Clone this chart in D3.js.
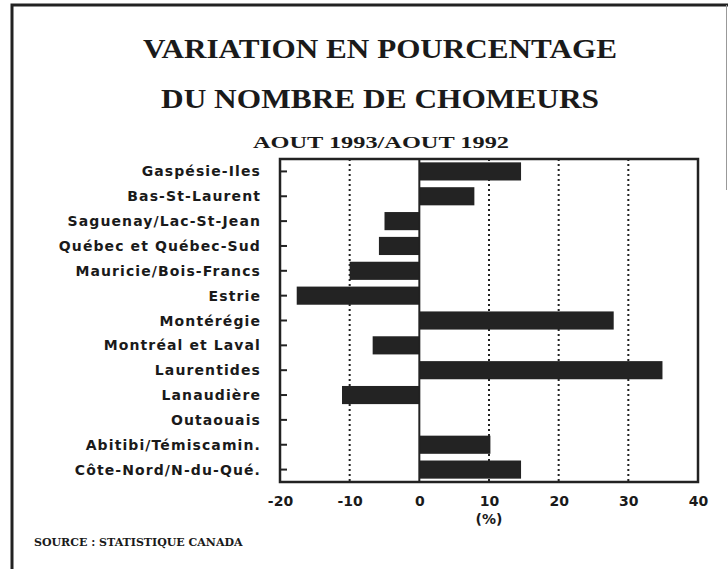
<!DOCTYPE html>
<html>
<head>
<meta charset="utf-8">
<script src="https://cdn.jsdelivr.net/npm/d3@7"></script>
<style>
  html, body { margin: 0; padding: 0; background: #fff; }
  svg { display: block; }
</style>
</head>
<body>
<div id="chart"></div>
<script>
const regions = [
  "Gaspésie-Iles", "Bas-St-Laurent", "Saguenay/Lac-St-Jean", "Québec et Québec-Sud",
  "Mauricie/Bois-Francs", "Estrie", "Montérégie", "Montréal et Laval",
  "Laurentides", "Lanaudière", "Outaouais", "Abitibi/Témiscamin.", "Côte-Nord/N-du-Qué."
];
const variation = [14.6, 7.9, -5.0, -5.8, -10.0, -17.6, 27.9, -6.7, 34.9, -11.1, 0, 10.2, 14.6];
const xTicks = [-20, -10, 0, 10, 20, 30, 40];
const gridTicks = [-10, 10, 20, 30];

const width = 728, height = 569;
const margin = { top: 159, right: 30, bottom: 87, left: 280 };

const svg = d3.select("#chart")
  .append("svg")
  .attr("width", width)
  .attr("height", height);

// outer frame of the page
svg.append("path")
  .attr("d", `M12,${height} L12,5 L${width},5`)
  .attr("fill", "none")
  .attr("stroke", "#222")
  .attr("stroke-width", 3);
svg.append("line")
  .attr("x1", 726.5).attr("x2", 726.5).attr("y1", 5).attr("y2", 190)
  .attr("stroke", "#999").attr("stroke-width", 1);

// titles
const title = svg.append("g")
  .attr("font-family", "'Liberation Serif', 'DejaVu Serif', serif")
  .attr("text-anchor", "middle")
  .attr("fill", "#1a1a1a");

title.append("text")
  .attr("x", 380).attr("y", 58)
  .attr("font-size", 28)
  .attr("font-weight", "bold")
  .attr("textLength", 474)
  .attr("lengthAdjust", "spacingAndGlyphs")
  .text("VARIATION EN POURCENTAGE");

title.append("text")
  .attr("x", 380).attr("y", 108)
  .attr("font-size", 28)
  .attr("font-weight", "bold")
  .attr("textLength", 438)
  .attr("lengthAdjust", "spacingAndGlyphs")
  .text("DU NOMBRE DE CHOMEURS");

title.append("text")
  .attr("x", 381).attr("y", 148)
  .attr("font-size", 16)
  .attr("font-weight", "bold")
  .attr("textLength", 256)
  .attr("lengthAdjust", "spacingAndGlyphs")
  .text("AOUT 1993/AOUT 1992");

const innerW = width - margin.left - margin.right;
const innerH = height - margin.top - margin.bottom;

const g = svg.append("g")
  .attr("transform", `translate(${margin.left},${margin.top})`);

const x = d3.scaleLinear()
  .domain([-20, 40])
  .range([0, innerW]);

const y = d3.scaleBand()
  .domain(regions)
  .range([0, innerH])
  .paddingInner(0.27)
  .paddingOuter(0.135);

// dotted grid
g.selectAll(".grid")
  .data(gridTicks)
  .join("line")
  .attr("class", "grid")
  .attr("x1", d => x(d)).attr("x2", d => x(d))
  .attr("y1", 0).attr("y2", innerH)
  .attr("stroke", "#222")
  .attr("stroke-width", 2)
  .attr("stroke-dasharray", "2,3");

// bars
g.selectAll(".bar")
  .data(regions)
  .join("rect")
  .attr("class", "bar")
  .attr("x", (d, i) => x(Math.min(0, variation[i])))
  .attr("y", d => y(d))
  .attr("width", (d, i) => Math.abs(x(variation[i]) - x(0)))
  .attr("height", y.bandwidth())
  .attr("fill", "#232323");

// zero line
g.append("line")
  .attr("x1", x(0)).attr("x2", x(0))
  .attr("y1", 0).attr("y2", innerH)
  .attr("stroke", "#222")
  .attr("stroke-width", 2);

// plot frame
g.append("rect")
  .attr("width", innerW)
  .attr("height", innerH)
  .attr("fill", "none")
  .attr("stroke", "#222")
  .attr("stroke-width", 2.5);

// left axis: ticks pointing inward, labels on the left
const yAxis = g.append("g")
  .call(d3.axisRight(y).tickSize(7).tickSizeOuter(0).tickFormat(""));
yAxis.select(".domain").remove();
yAxis.selectAll("line").attr("stroke", "#222").attr("stroke-width", 2);

g.selectAll(".cat")
  .data(regions)
  .join("text")
  .attr("class", "cat")
  .attr("x", -19)
  .attr("y", d => y(d) + y.bandwidth() / 2 + 5)
  .attr("text-anchor", "end")
  .attr("font-family", "'DejaVu Sans', sans-serif")
  .attr("font-weight", "bold")
  .attr("font-size", 14)
  .attr("letter-spacing", 1.1)
  .attr("fill", "#1a1a1a")
  .text(d => d);

// bottom axis labels
const xAxis = g.append("g")
  .attr("transform", `translate(0,${innerH})`)
  .call(d3.axisBottom(x).tickValues(xTicks).tickSize(0).tickPadding(14).tickFormat(d3.format("d")));
xAxis.select(".domain").remove();
xAxis.selectAll("text")
  .attr("font-family", "'DejaVu Sans', sans-serif")
  .attr("font-weight", "bold")
  .attr("font-size", 14)
  .attr("fill", "#1a1a1a")
  .text(d => d < 0 ? "-" + Math.abs(d) : d);

g.append("text")
  .attr("x", innerW / 2)
  .attr("y", innerH + 42)
  .attr("text-anchor", "middle")
  .attr("font-family", "'DejaVu Sans', sans-serif")
  .attr("font-weight", "bold")
  .attr("font-size", 14)
  .attr("fill", "#1a1a1a")
  .text("(%)");

// source
svg.append("text")
  .attr("x", 34)
  .attr("y", 546)
  .attr("font-family", "'DejaVu Serif', serif")
  .attr("font-weight", "bold")
  .attr("font-size", 11)
  .attr("fill", "#1a1a1a")
  .text("SOURCE : STATISTIQUE CANADA");
</script>
</body>
</html>
